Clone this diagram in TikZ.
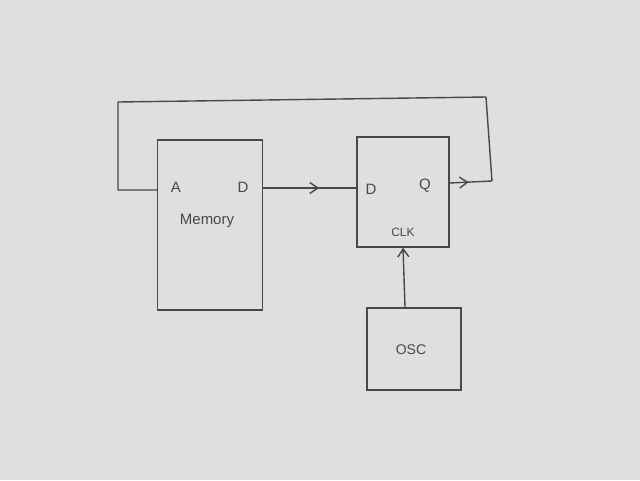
\documentclass[tikz,border=0pt]{standalone}
\usepackage{fontspec}
\setmainfont{Liberation Sans}
\usetikzlibrary{arrows.meta,decorations.markings}
\definecolor{paper}{RGB}{222,223,222}
\definecolor{pencil}{RGB}{72,72,72}
\begin{document}
\begin{tikzpicture}[x=1pt,y=-1pt,
  box/.style={draw=pencil,line width=1.4pt,inner sep=0pt},
  wire/.style={draw=pencil,line width=1.4pt},
  lbl/.style={text=pencil,font=\fontsize{15}{17}\selectfont},
  tip/.tip={Straight Barb[length=8pt,width=11pt,line width=1.4pt]},
  midarrow/.style={postaction={decorate},decoration={markings,
     mark=at position #1 with {\arrow{tip}}}}]
\fill[paper] (0,0) rectangle (640,480);
\useasboundingbox (0,0) rectangle (640,480);
% boxes
\node[box,minimum width=105pt,minimum height=170pt] (mem) at (210,225) {};
\node[box,minimum width=92pt,minimum height=110pt] (ff) at (403,192) {};
\node[box,minimum width=94pt,minimum height=82pt] (osc) at (414,349) {};
% labels
\node[lbl] (la) at (176,187) {A};
\node[lbl] (ld) at (243,187) {D};
\node[lbl] (lmem) at (207,221) {Memory};
\node[lbl] (fd) at (371,189) {D};
\node[lbl] (fq) at (425,186) {Q};
\node[lbl,font=\fontsize{12}{14}\selectfont] (fclk) at (403,232) {CLK};
\node[lbl,font=\fontsize{14}{16}\selectfont] (losc) at (411,350) {OSC};
% connectors
\draw[wire,midarrow=0.6] ([yshift=37pt]mem.east) -- ([yshift=4pt]ff.west);
\draw[wire,-tip] ([xshift=-9pt]osc.north) -- (ff.south);
\coordinate (c1) at (492,181);
\coordinate (c2) at (486,97);
\coordinate (c3) at (118,102);
\coordinate (c4) at (118,190);
\draw[wire,midarrow=0.45] ([yshift=9pt]ff.east) -- (c1);
\draw[wire,line join=round] (c1) -- (c2) -- (c3) -- (c4) -- ([yshift=35pt]mem.west);
\end{tikzpicture}
\end{document}
